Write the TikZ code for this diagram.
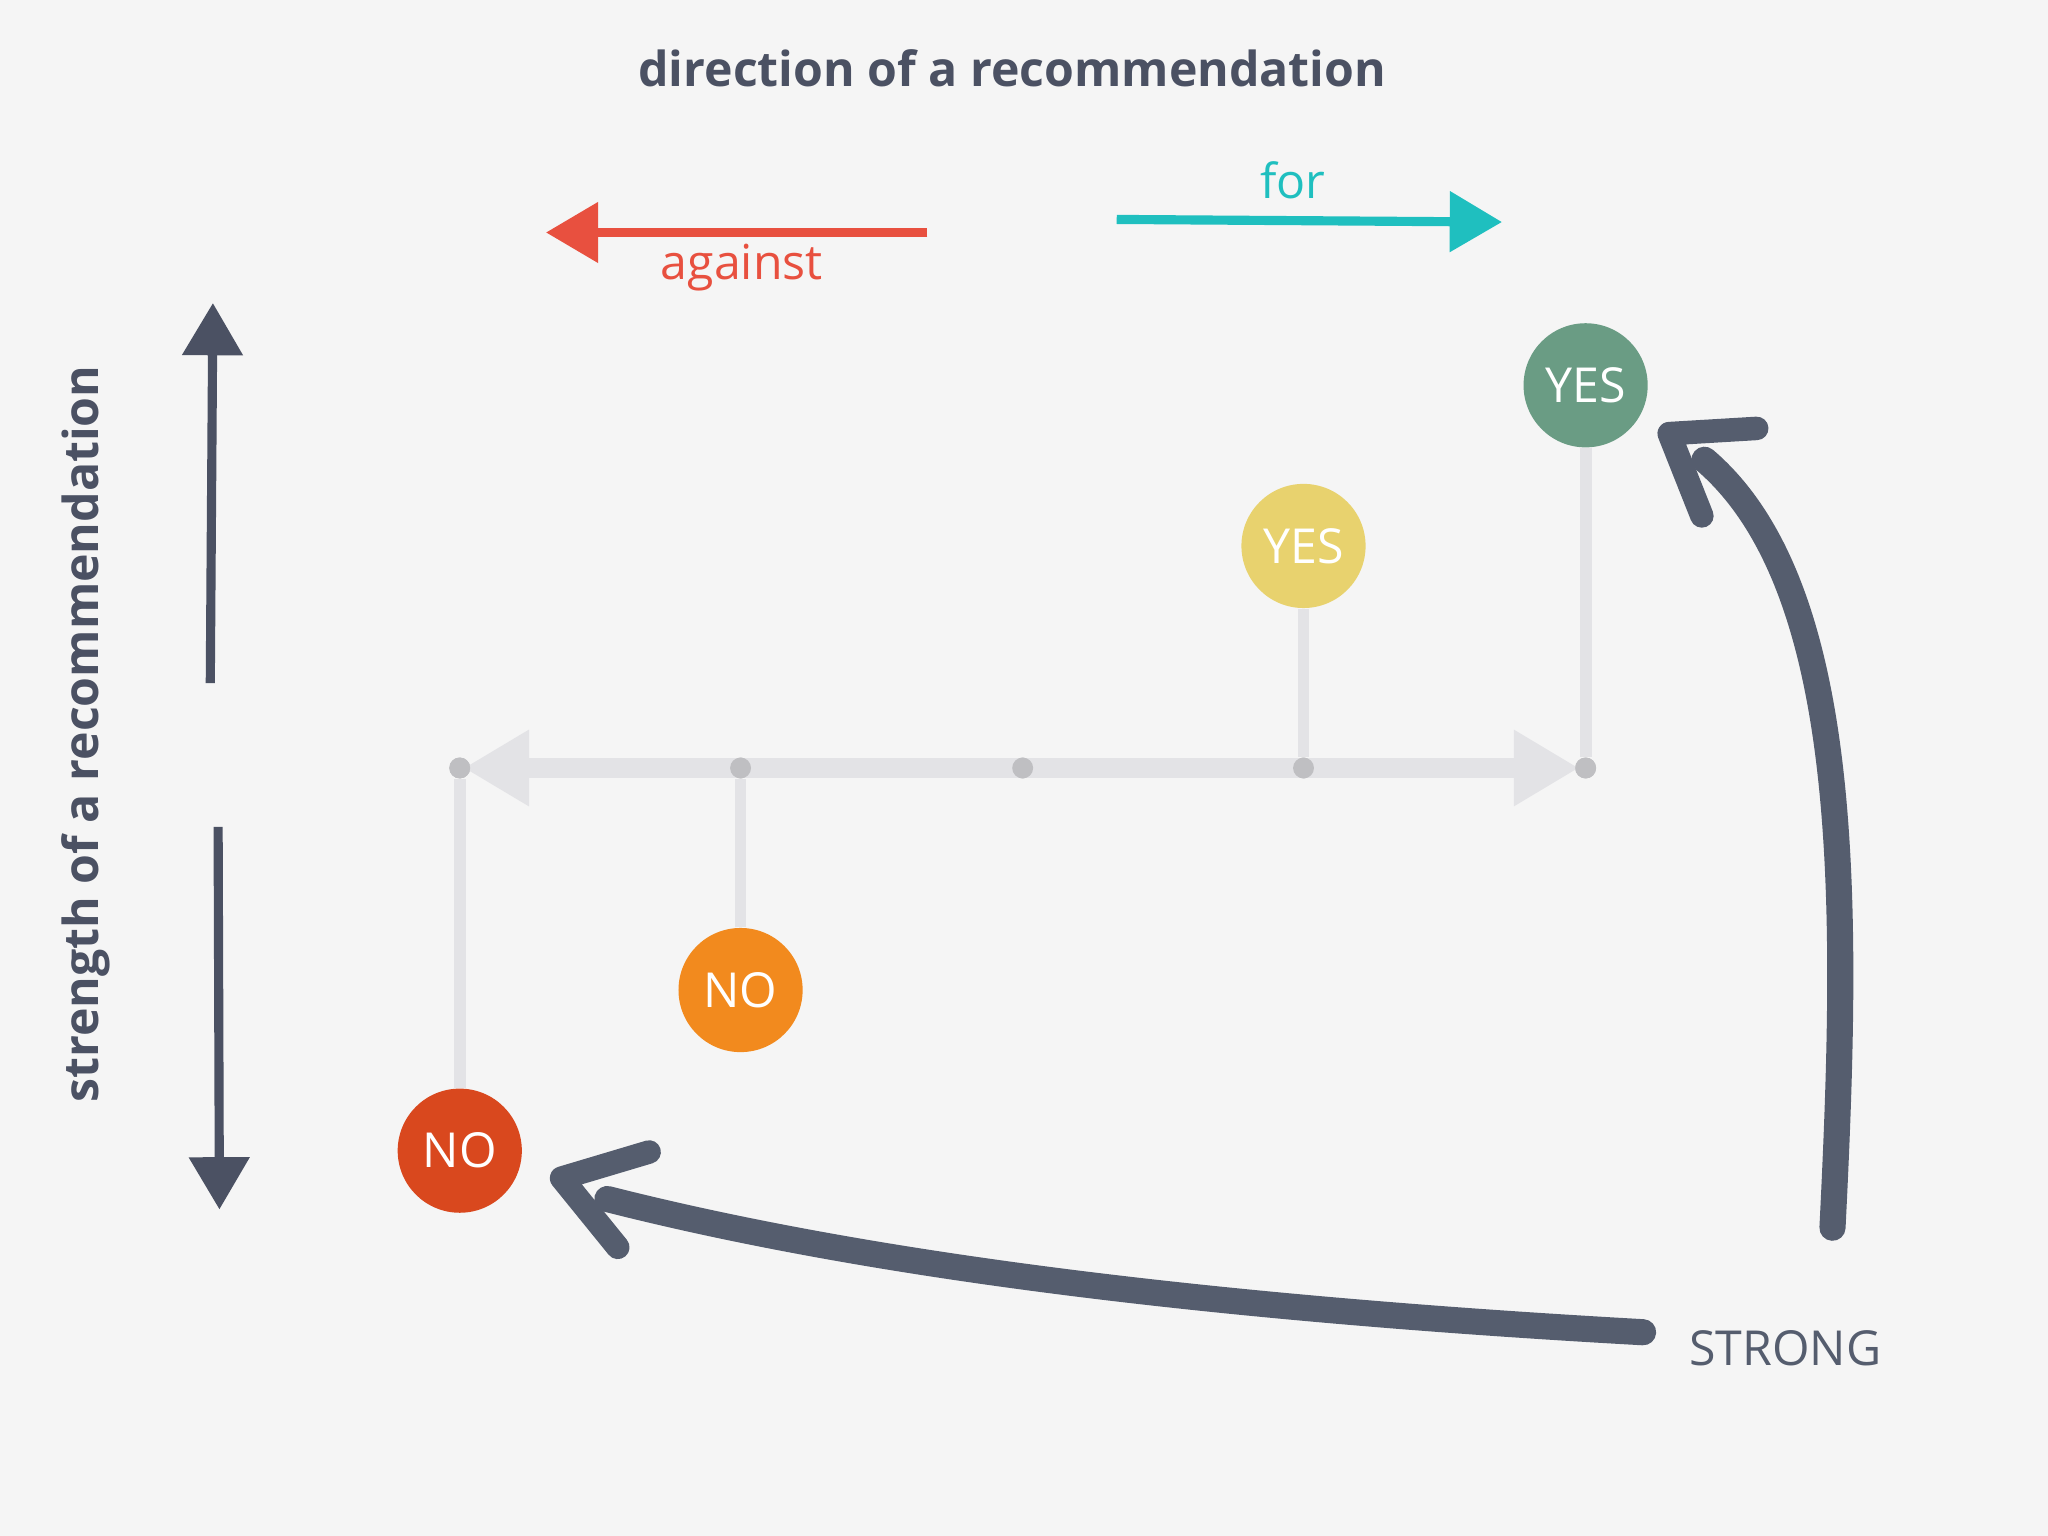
\documentclass[tikz,border=0pt]{standalone}
\usepackage{fontspec}
\setmainfont{Open Sans}
\usetikzlibrary{arrows.meta}
\definecolor{bg}{HTML}{F5F5F5}
\definecolor{ink}{HTML}{4B5163}
\definecolor{redA}{HTML}{E8503F}
\definecolor{teal}{HTML}{1FBFBF}
\definecolor{axis}{HTML}{E3E3E6}
\definecolor{dotc}{HTML}{BFBFC2}
\definecolor{cNOa}{HTML}{D9481E}
\definecolor{cNOb}{HTML}{F28A1E}
\definecolor{cYESa}{HTML}{E8D26E}
\definecolor{cYESb}{HTML}{6A9C84}
\definecolor{strong}{HTML}{555D6E}
\begin{document}
\begin{tikzpicture}[x=0.01cm,y=-0.01cm,
  ball/.style={circle,minimum size=0.95cm,inner sep=0pt,text=white,font=\fontsize{10.5}{12}\selectfont},
  dotn/.style={circle,fill=dotc,minimum size=0.16cm,inner sep=0pt},
  stem/.style={axis,line width=0.9mm},
  bigarr/.style={strong,line width=2mm,line cap=round},
  chev/.style={strong,line width=1.8mm,line cap=round,line join=round}]
\fill[bg] (0,0) rectangle (1568,1176);
\node[ink,font=\fontsize{10.5}{12}\selectfont\bfseries] (title) at (775,52) {direction of a recommendation};
% against / for
\coordinate (ra) at (710,178); \coordinate (rb) at (418,178);
\draw[redA,line width=0.7mm,-{Triangle[length=0.4cm,width=0.45cm]}] (ra) -- (rb);
\node[redA,font=\fontsize{10.5}{12}\selectfont] (against) at (568,205) {against};
\coordinate (ta) at (855,168); \coordinate (tb) at (1150,170);
\draw[teal,line width=0.7mm,-{Triangle[length=0.4cm,width=0.45cm]}] (ta) -- (tb);
\node[teal,font=\fontsize{10.5}{12}\selectfont] (for) at (990,138) {for};
% vertical
\coordinate (ua) at (161,523); \coordinate (ub) at (163,232);
\draw[ink,line width=0.7mm,-{Triangle[length=0.4cm,width=0.45cm]}] (ua) -- (ub);
\coordinate (da) at (167,633); \coordinate (db) at (168,926);
\draw[ink,line width=0.7mm,-{Triangle[length=0.4cm,width=0.45cm]}] (da) -- (db);
\node[ink,rotate=90,font=\fontsize{10.5}{12}\selectfont\bfseries] (strength) at (66,562) {strength of a recommendation};
% axis
\node[dotn] (d1) at (352,588) {};
\node[dotn] (d2) at (567,588) {};
\node[dotn] (d3) at (783,588) {};
\node[dotn] (d4) at (998,588) {};
\node[dotn] (d5) at (1214,588) {};
\draw[axis,line width=1.5mm,{Triangle[length=0.5cm,width=0.55cm]}-{Triangle[length=0.5cm,width=0.55cm]}] ([xshift=0.03cm]d1.center) -- ([xshift=-0.05cm]d5.center);
% balls
\node[ball,fill=cNOa] (n1) at (352,881) {NO};
\node[ball,fill=cNOb] (n2) at (567,758) {NO};
\node[ball,fill=cYESa] (y1) at (998,418) {YES};
\node[ball,fill=cYESb] (y2) at (1214,295) {YES};
\draw[stem] (d1) -- (n1);
\draw[stem] (d2) -- (n2);
\draw[stem] (d4) -- (y1);
\draw[stem] (d5) -- (y2);
\foreach \d in {d1,d2,d3,d4,d5}{\node[dotn] at (\d) {};}
% strong
\node[font=\fontsize{10.5}{12}\selectfont,text=strong] (st) at (1367,1032) {STRONG};
\coordinate (s1) at (1258,1020);
\coordinate (s2) at (465,918);
\draw[bigarr] (s1) .. controls (900,1000) and (650,965) .. (s2);
\draw[chev] (497,882) -- (430,902) -- (473,955);
\coordinate (s3) at (1403,940);
\coordinate (s4) at (1305,352);
\draw[bigarr] (s3) .. controls (1415,700) and (1420,450) .. (s4);
\draw[chev] (1345,328) -- (1278,332) -- (1303,395);
\end{tikzpicture}
\end{document}
